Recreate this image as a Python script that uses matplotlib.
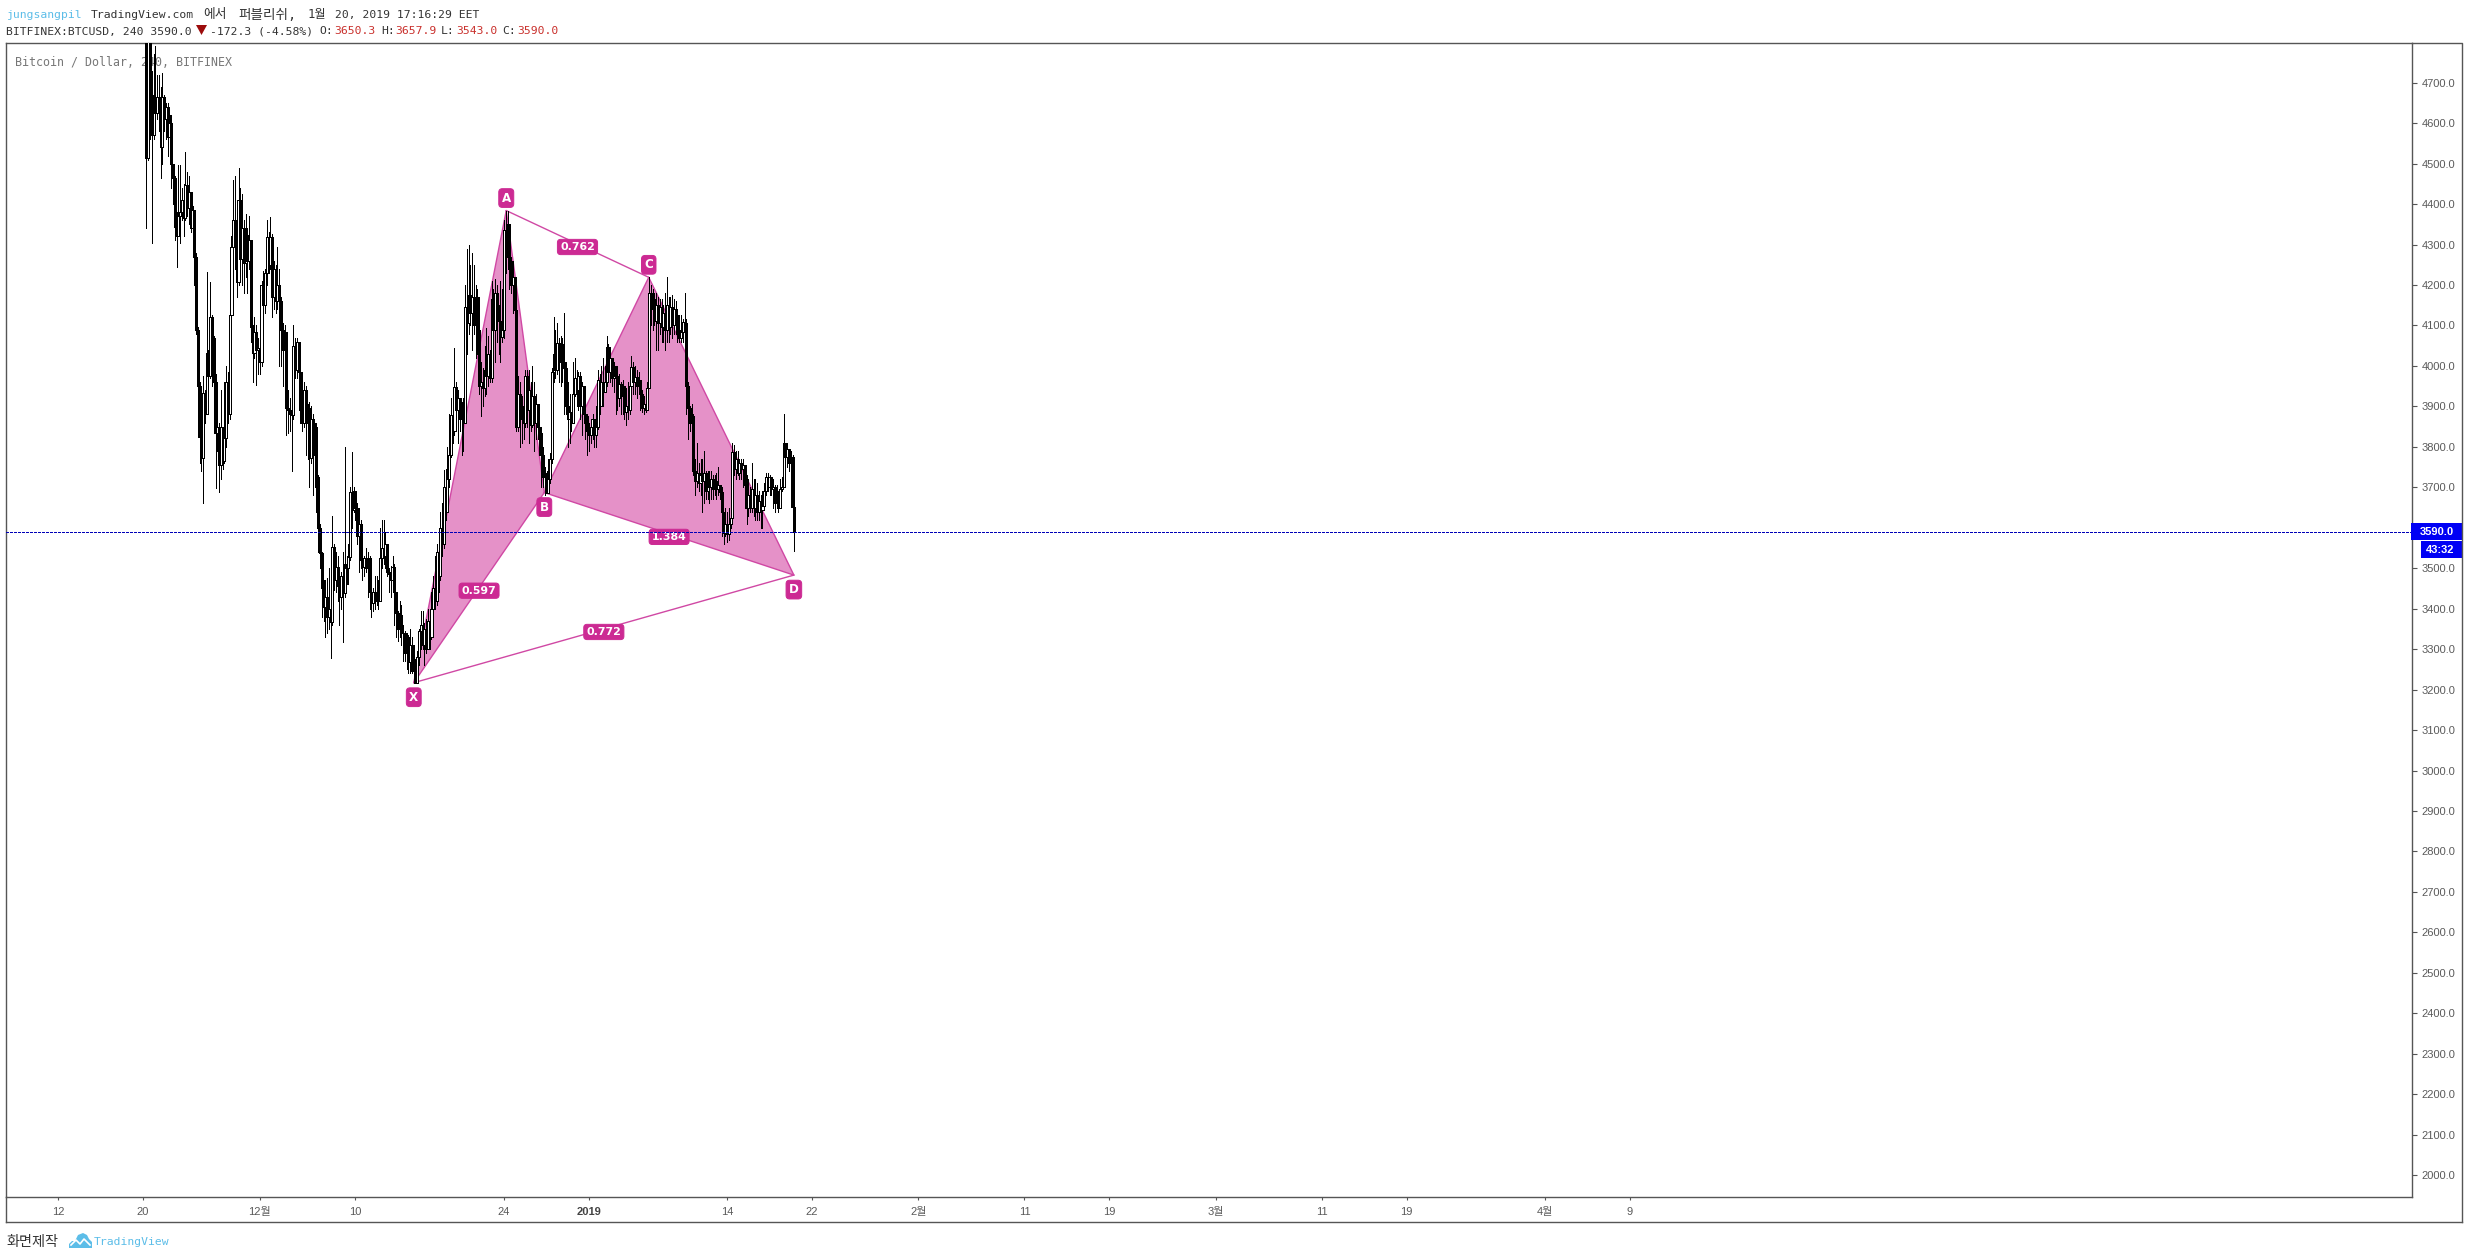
import numpy as np
import matplotlib
matplotlib.use("Agg")
import matplotlib.pyplot as plt
import matplotlib.dates as mdates
from matplotlib.patches import Polygon, Rectangle
from matplotlib.lines import Line2D

W, H = 2468, 1259
MONO = ["DejaVu Sans Mono", "Noto Sans CJK KR"]
SANS = ["Liberation Sans", "Noto Sans CJK KR"]

# BTCUSD 4-hour candles, ten per row
closes = [
    4900,4515,4850,4670,4570,4660,4625,4665,4635,4540,
    4665,4610,4640,4566,4600,4500,4464,4343,4320,4370,
    4380,4410,4365,4447,4390,4430,4340,4385,4270,4090,
    3950,3825,3772,3933,3880,4031,3975,4121,4070,3960,
    3834,3850,3755,3850,3765,3822,3960,3880,4125,4294,
    4360,4300,4207,4410,4265,4340,4254,4323,4260,4310,
    4096,4032,4085,4040,4044,4010,4200,4150,4230,4318,
    4250,4318,4170,4240,4160,4200,4160,4090,4040,4085,
    3896,3890,3880,3878,4050,3990,4060,3985,3910,3860,
    3940,3860,3896,3772,3870,3780,3850,3725,3600,3537,
    3450,3404,3430,3380,3400,3367,3552,3470,3503,3455,
    3430,3480,3438,3510,3500,3527,3688,3645,3690,3650,
    3580,3610,3520,3503,3525,3500,3525,3440,3414,3440,
    3420,3430,3420,3525,3550,3530,3560,3490,3485,3470,
    3503,3440,3390,3350,3385,3340,3340,3290,3330,3268,
    3310,3245,3275,3217,3280,3345,3360,3310,3350,3300,
    3370,3330,3400,3450,3420,3540,3480,3600,3560,3700,
    3640,3720,3780,3878,3840,3948,3890,3920,3870,3885,
    3860,4145,4105,4175,4130,4170,4100,4170,4090,3950,
    3960,3945,3990,3975,4030,3970,4165,4090,4180,4120,
    4110,4071,4090,4336,4270,4350,4260,4200,4220,4138,
    3850,3930,3870,3900,3860,3975,3890,3940,3855,3925,
    3860,3905,3850,3835,3780,3725,3735,3687,3720,3770,
    3985,4030,3990,4056,4010,4055,4010,3995,3900,3870,
    3885,3860,3930,3970,3940,3975,3900,3950,3880,3875,
    3840,3830,3850,3870,3830,3850,3965,3900,3960,3935,
    3960,4047,3985,4020,3970,4000,3975,3920,3955,3925,
    3950,3885,3900,3890,3950,3998,3960,3972,3950,3965,
    3930,3895,3905,3890,3945,4180,4140,4165,4110,4150,
    4105,4145,4095,4130,4090,4150,4095,4145,4100,4140,
    4125,4090,4070,4085,4108,4105,3950,3895,3860,3875,
    3740,3715,3735,3710,3730,3715,3735,3690,3720,3700,
    3720,3695,3715,3695,3705,3688,3640,3587,3610,3585,
    3610,3625,3787,3745,3770,3735,3760,3745,3755,3705,
    3650,3680,3650,3695,3650,3680,3640,3665,3645,3655,
    3690,3725,3700,3725,3695,3700,3660,3690,3650,3695,
    3700,3810,3775,3795,3760,3775,3650.3,3590.0,
]
highs = [
    5000,4930,4900,4870,4730,4770,4790,4720,4720,4690,
    4724,4670,4650,4650,4620,4620,4500,4470,4380,4497,
    4497,4440,4450,4529,4480,4470,4400,4395,4340,4280,
    4095,3960,3830,3975,3940,4232,4040,4207,4125,4075,
    3980,3920,3860,3940,3850,3960,4000,3985,4130,4320,
    4460,4470,4350,4489,4440,4425,4360,4375,4340,4370,
    4260,4100,4120,4100,4070,4060,4210,4235,4240,4360,
    4330,4368,4325,4260,4250,4294,4240,4170,4105,4100,
    4050,3940,3920,3900,4100,4070,4070,4020,3990,3930,
    3960,3950,3905,3910,3900,3880,3860,3860,3730,3610,
    3540,3470,3470,3476,3500,3550,3630,3560,3540,3530,
    3490,3490,3540,3800,3530,3560,3700,3787,3700,3690,
    3660,3650,3620,3540,3530,3550,3540,3530,3470,3450,
    3480,3480,3470,3600,3620,3620,3590,3560,3500,3505,
    3530,3510,3440,3395,3420,3410,3360,3345,3340,3335,
    3350,3330,3310,3280,3295,3350,3395,3395,3365,3375,
    3400,3390,3440,3480,3530,3560,3570,3640,3660,3742,
    3745,3800,3880,3920,3900,4044,3960,3940,3900,3910,
    3920,4200,4290,4298,4250,4280,4250,4200,4190,4110,
    4010,3995,4050,4093,4075,4040,4210,4190,4215,4200,
    4150,4210,4190,4360,4384,4384,4340,4270,4260,4220,
    4140,3975,3960,3925,3940,3990,3990,3990,3960,4000,
    3960,3930,3900,3900,3850,3800,3750,3740,3770,3785,
    3995,4120,4090,4105,4070,4075,4070,4130,4010,3960,
    3930,3880,4010,4020,3990,3985,3985,3960,3950,3920,
    3880,3860,3870,3880,3860,3900,3990,3980,4000,4020,
    4000,4075,4055,4040,4020,4010,3995,3985,3980,3960,
    3965,3950,3945,3960,3960,4025,4010,4000,3990,3985,
    3960,3940,3925,3930,3960,4219,4200,4190,4180,4180,
    4170,4165,4165,4150,4180,4220,4170,4170,4175,4165,
    4160,4130,4110,4125,4115,4180,4115,3960,3900,3905,
    3880,3770,3810,3760,3770,3770,3790,3740,3740,3740,
    3740,3730,3730,3735,3750,3700,3700,3640,3650,3640,
    3650,3660,3810,3805,3790,3790,3770,3770,3770,3750,
    3730,3720,3700,3760,3720,3720,3710,3690,3680,3690,
    3710,3735,3735,3730,3715,3720,3705,3705,3690,3720,
    3725,3880,3810,3810,3790,3790,3780,3657.9,
]
lows = [
    4850,4340,4510,4560,4304,4560,4570,4610,4580,4464,
    4500,4580,4560,4520,4560,4440,4400,4310,4245,4320,
    4303,4360,4320,4360,4370,4350,4330,4300,4200,4080,
    3825,3760,3740,3660,3860,3900,3960,3970,3950,3900,
    3698,3790,3688,3720,3745,3760,3800,3860,3870,4100,
    4280,4240,4170,4200,4225,4200,4180,4220,4180,4240,
    4060,3960,4020,3953,3980,3980,4000,4120,4130,4200,
    4230,4240,4120,4140,4130,4140,4000,4000,3950,3950,
    3830,3834,3840,3740,3870,3970,3970,3890,3860,3840,
    3850,3780,3770,3700,3760,3680,3700,3640,3540,3500,
    3380,3370,3330,3340,3350,3277,3360,3445,3440,3420,
    3360,3400,3317,3430,3460,3460,3520,3600,3640,3620,
    3560,3490,3500,3470,3480,3490,3430,3400,3380,3395,
    3400,3410,3400,3420,3500,3510,3500,3480,3440,3430,
    3460,3360,3330,3320,3330,3310,3270,3270,3250,3240,
    3240,3240,3217,3217,3217,3260,3300,3300,3260,3290,
    3310,3300,3325,3380,3400,3410,3440,3470,3530,3550,
    3620,3650,3700,3775,3810,3830,3840,3810,3840,3780,
    3790,3860,4030,4080,4100,4040,4080,4020,4030,3930,
    3875,3900,3925,3930,3950,3960,3960,4060,4010,4060,
    4030,4010,4060,4070,4230,4240,4190,4180,4130,4080,
    3840,3840,3800,3810,3820,3850,3850,3810,3840,3850,
    3790,3820,3820,3780,3700,3700,3680,3687,3700,3710,
    3760,3960,3970,3980,3960,3950,3960,3880,3880,3800,
    3810,3840,3870,3925,3900,3890,3870,3830,3860,3820,
    3780,3790,3810,3820,3800,3800,3845,3880,3900,3900,
    3940,3950,3960,3960,3950,3935,3880,3890,3900,3880,
    3880,3870,3855,3870,3880,3945,3930,3930,3920,3930,
    3890,3885,3880,3885,3890,3945,4100,4090,4100,4040,
    4040,4080,4060,4060,4040,4060,4060,4080,4070,4080,
    4080,4060,4060,4060,4060,3960,3880,3820,3840,3790,
    3730,3680,3700,3690,3680,3640,3660,3670,3670,3660,
    3670,3670,3680,3670,3680,3670,3580,3560,3580,3565,
    3570,3600,3610,3730,3720,3730,3720,3720,3700,3680,
    3610,3630,3640,3640,3630,3620,3620,3620,3600,3600,
    3660,3680,3690,3680,3680,3650,3640,3650,3640,3650,
    3690,3700,3740,3750,3740,3740,3640,3543.0,
]
first_open = 5050
last_bar_time = "2019-01-20 08:00"
bars_per_day = 6

# Harmonic pattern pivots
pivot_names = ["X", "A", "B", "C", "D"]
pivot_times = ["2018-12-15 12:00", "2018-12-24 05:00", "2018-12-27 19:00",
               "2019-01-06 15:00", "2019-01-20 07:00"]
pivot_prices = [3217, 4384, 3687, 4219, 3483]
ratio_labels = ["0.597", "0.762", "1.384", "0.772"]

# Axis ticks
price_ticks = list(range(2000, 4800, 100))
date_ticks = ["2018-11-12", "2018-11-20", "2018-12-01", "2018-12-10", "2018-12-24",
              "2019-01-01", "2019-01-14", "2019-01-22", "2019-02-01", "2019-02-11",
              "2019-02-19", "2019-03-01", "2019-03-11", "2019-03-19", "2019-04-01",
              "2019-04-09"]
date_labels = ["12", "20", "12월", "10", "24", "2019", "14", "22", "2월", "11",
               "19", "3월", "11", "19", "4월", "9"]

LEFT, RIGHT, TOP, BOTTOM = 6, 2411.5, 43, 1197
OUTER_R, OUTER_B = 2461.5, 1222
FRAME = "#555555"
PINK = "#e591c8"
PINK_EDGE = "#d048a4"
TAG = "#cc2a93"
BLUE = "#0000b8"
RED = "#c9302c"
CYAN = "#5cbde8"
INK = "#333333"

plt.rcParams["font.family"] = SANS
fig = plt.figure(figsize=(W / 100, H / 100), dpi=100, facecolor="white")
ax = fig.add_axes([LEFT / W, 1 - BOTTOM / H, (RIGHT - LEFT) / W, (BOTTOM - TOP) / H])


def fx(px):
    return px / W


def fy(py):
    return 1 - py / H


def header(px, py, s, color=INK, size=8.2):
    fig.text(fx(px), fy(py), s, color=color, family=MONO, fontsize=size, va="center")


closes_a = np.array(closes, float)
highs_a = np.array(highs, float)
lows_a = np.array(lows, float)
opens_a = np.r_[first_open, closes_a[:-1]]
n = len(closes_a)
t_last = mdates.datestr2num(last_bar_time)
times = t_last - (n - 1 - np.arange(n)) / bars_per_day

# The date scale: Nov 12 sits at pixel 58 and one day spans 10.62 pixels
t0 = mdates.datestr2num("2018-11-12")
ax.set_xlim(t0 + (LEFT - 58) / 10.62, t0 + (RIGHT - 58) / 10.62)
px_per_price = 0.4046
ax.set_ylim(4700 - (BOTTOM - 82.7) / px_per_price, 4700 - (TOP - 82.7) / px_per_price)

# Pattern fill and outline
pt = mdates.datestr2num(pivot_times)
pts = np.column_stack([pt, pivot_prices])
X, A, B, C, D = pts
for tri in ((X, A, B), (B, C, D)):
    ax.add_patch(Polygon(tri, closed=True, facecolor=PINK, edgecolor="none", zorder=1))
for p, q in ((X, A), (A, B), (B, X), (B, C), (C, D), (D, B), (A, C), (X, D)):
    ax.plot([p[0], q[0]], [p[1], q[1]], color=PINK_EDGE, lw=1.0, zorder=1.5,
            solid_capstyle="round")

# Candles: wicks first, then bodies in time order
ax.vlines(times, lows_a, highs_a, color="black", lw=0.55, zorder=2, antialiased=False)
up = closes_a >= opens_a
ax.bar(times, np.abs(closes_a - opens_a), bottom=np.minimum(opens_a, closes_a), width=2.1 / 10.62,
       facecolor=["white" if u else "black" for u in up], edgecolor="black", linewidth=0.55,
       zorder=3, antialiased=False)

# Pivot letters and ratio labels
tag_box = dict(boxstyle="round,pad=0.24,rounding_size=0.3", fc=TAG, ec=TAG, lw=0.7)
offsets = {"X": -14.5, "A": 12.5, "B": -14.5, "C": 12.5, "D": -14.5}
for name, p in zip(pivot_names, pts):
    ax.annotate(name, xy=p, xytext=(0, offsets[name] * 0.72), textcoords="offset points",
                ha="center", va="center", color="white", fontsize=8.6, fontweight="bold",
                family="DejaVu Sans", bbox=tag_box, zorder=6)
for label, (p, q) in zip(ratio_labels, ((X, B), (A, C), (B, D), (X, D))):
    ax.annotate(label, xy=((p[0] + q[0]) / 2, (p[1] + q[1]) / 2), xytext=(0, -2.2),
                textcoords="offset points", ha="center", va="center", color="white",
                fontsize=7.9, fontweight="bold", family="DejaVu Sans", bbox=tag_box, zorder=6)

# Last-price line
last_close = closes_a[-1]
ax.axhline(last_close, color=BLUE, lw=0.72, ls=(0, (2.5, 1.5)), zorder=7, antialiased=False)

# Watermark sits behind the candles
ax.text(fx(15), fy(62.7), "Bitcoin / Dollar, 240, BITFINEX", transform=fig.transFigure, family=MONO,
        fontsize=8.4, color="#777777", va="center", zorder=0.5)

# Axes
ax.set_yticks(price_ticks)
ax.set_yticklabels([f"{v:.1f}" for v in price_ticks])
ax.yaxis.tick_right()
ax.set_xticks(mdates.datestr2num(date_ticks))
ax.set_xticklabels(date_labels)
ax.tick_params(axis="y", length=3.6, width=0.8, color=FRAME, labelcolor="#5a5a5a", labelsize=8.0, pad=3.5)
ax.tick_params(axis="x", length=2.2, width=0.8, color=FRAME, labelcolor="#5a5a5a", labelsize=8.0, pad=5)
for lbl, txt in zip(ax.get_xticklabels(), date_labels):
    if txt == "2019":
        lbl.set_fontweight("bold")
        lbl.set_color("#444444")
for s in ax.spines.values():
    s.set_color(FRAME)
    s.set_linewidth(1.0)

# Outer frame around the price and time scales
for xs, ys in (([RIGHT, OUTER_R, OUTER_R], [TOP, TOP, OUTER_B]),
               ([LEFT, OUTER_R], [OUTER_B, OUTER_B]),
               ([LEFT, LEFT], [BOTTOM, OUTER_B])):
    fig.add_artist(Line2D([fx(v) for v in xs], [fy(v) for v in ys], color=FRAME, lw=1.0,
                          transform=fig.transFigure))

# Price and countdown tags on the scale
tag_y = H - ax.transData.transform((t0, last_close))[1]
for x0, y0, x1, y1, s in ((RIGHT - 1, tag_y - 8.5, OUTER_R, tag_y + 8.5, f"{last_close:.1f}"),
                          (2421, tag_y + 9.5, OUTER_R, tag_y + 26.5, "43:32")):
    fig.add_artist(Rectangle((fx(x0), fy(y1)), fx(x1 - x0), (y1 - y0) / H, facecolor="#0000f5",
                             edgecolor="none", transform=fig.transFigure))
    fig.text(fx(2437 if s != "43:32" else 2440.5), fy((y0 + y1) / 2), s, color="white", fontsize=8.0,
             fontweight="bold", ha="center", va="center", family=SANS)

# Header lines
header(6.5, 14.7, "jungsangpil", color=CYAN)
header(91, 14.7, "TradingView.com")
header(203, 14.7, "에서", size=9.2)
header(238, 14.7, "퍼블리쉬,", size=9.8)
header(308, 14.7, "1월", size=8.8)
header(335, 14.7, "20, 2019 17:16:29 EET")
header(6.5, 31.5, "BITFINEX:BTCUSD, 240 3590.0")
fig.add_artist(Polygon([(fx(196), fy(25)), (fx(207), fy(25)), (fx(201.5), fy(35))], closed=True,
                       facecolor="#9c0c0c", edgecolor="none", transform=fig.transFigure))
header(210, 31.5, "-172.3 (-4.58%)")
for px, s, col in ((319.5, "O:", INK), (334, "3650.3", RED), (381, "H:", INK), (395, "3657.9", RED),
                   (441, "L:", INK), (456, "3543.0", RED), (502, "C:", INK), (517, "3590.0", RED)):
    header(px, 31.5, s, color=col)

# Footer with the cloud mark
fig.text(fx(6.5), fy(1242), "화면제작", color=INK, family=MONO, fontsize=10.2, va="center")
cloud = [(69, 1248), (69, 1244), (72, 1241), (75, 1241), (78, 1235), (83, 1233), (87, 1235),
         (89, 1239), (92, 1242), (92, 1248)]
fig.add_artist(Polygon([(fx(a), fy(b)) for a, b in cloud], closed=True, facecolor=CYAN, edgecolor="none",
                       transform=fig.transFigure))
fig.add_artist(Line2D([fx(v) for v in (71, 76, 80, 84, 90)], [fy(v) for v in (1245, 1240, 1244, 1239, 1245)],
                      color="white", lw=1.2, transform=fig.transFigure))
header(94, 1242, "TradingView", color=CYAN)

assert len(closes) == len(highs) == len(lows)
fig.savefig("out.png", dpi=100, facecolor="white")
